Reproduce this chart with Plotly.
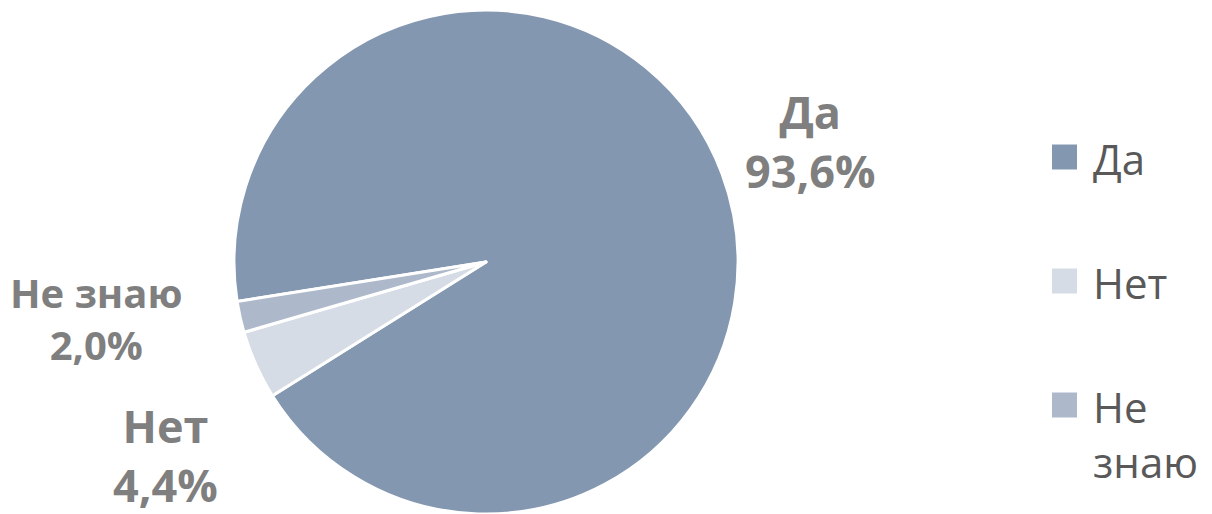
import math
import plotly.graph_objects as go

# ---- data ----
labels = ["Да", "Нет", "Не знаю"]
legend_labels = ["Да", "Нет", "Не<br>знаю"]
values = [93.6, 4.4, 2.0]
colors = ["#8497B0", "#D6DCE5", "#ADB9CA"]

# ---- layout constants (screen px; page body adds an 8px offset) ----
OFF = 8
W, H = 1212 - OFF, 514 - OFF
CX, CY, R = 486, 262, 252           # pie centre / radius (screen px)
ROTATION = 261                      # degrees clockwise from 12 o'clock
label_radius = [1.373, 1.484, 1.563]  # label distance (x radius)
label_angle_shift = [0.0, -7.0, 4.4]  # degrees
label_font_size = [45, 45, 40]


def fx(sx):
    return (sx - OFF) / W


def fy(sy):
    return 1 - (sy - OFF) / H


fig = go.Figure()
fig.add_trace(go.Pie(
    labels=labels,
    values=values,
    sort=False,
    direction="clockwise",
    rotation=ROTATION,
    marker=dict(colors=colors, line=dict(color="white", width=3)),
    textinfo="none",
    hoverinfo="label+percent",
    showlegend=False,
    domain=dict(x=[fx(CX - R), fx(CX + R)], y=[max(0, fy(CY + R)), fy(CY - R)]),
))

annotations = []
shapes = []
total = sum(values)
cum = 0.0
for i, (lab, v) in enumerate(zip(labels, values)):
    mid = ROTATION + (cum + v / 2) / total * 360 + label_angle_shift[i]
    cum += v
    a = math.radians(mid)
    px = CX + R * label_radius[i] * math.sin(a)
    py = CY - R * label_radius[i] * math.cos(a)
    txt = f"{lab}<br>{v:.1f}".replace(".", ",") + "%"
    annotations.append(dict(
        x=fx(px), y=fy(py), xref="paper", yref="paper",
        text=f"<b>{txt}</b>", showarrow=False,
        xanchor="center", yanchor="middle",
        font=dict(family="Open Sans", size=label_font_size[i], color="#7F7F7F"),
    ))

# manual legend
LEG_X0, LEG_SQ, LEG_TEXT_X = 1052, 25, 1091
LEG_Y0, LEG_STEP, LEG_FONT = 157, 124, 42
for i, (lab, c) in enumerate(zip(legend_labels, colors)):
    yc = LEG_Y0 + LEG_STEP * i
    shapes.append(dict(
        type="rect", xref="paper", yref="paper",
        x0=fx(LEG_X0), x1=fx(LEG_X0 + LEG_SQ),
        y0=fy(yc + LEG_SQ / 2), y1=fy(yc - LEG_SQ / 2),
        fillcolor=c, line=dict(width=0),
    ))
    annotations.append(dict(
        x=fx(LEG_TEXT_X), y=fy(yc - LEG_FONT * 0.68), xref="paper", yref="paper",
        text=lab, showarrow=False, xanchor="left", yanchor="top", align="left",
        font=dict(family="Open Sans", size=LEG_FONT, color="#595959"),
    ))

fig.update_layout(
    width=W, height=H,
    margin=dict(l=0, r=0, t=0, b=0),
    paper_bgcolor="white", plot_bgcolor="white",
    annotations=annotations, shapes=shapes,
)
fig.write_html("out.html")
